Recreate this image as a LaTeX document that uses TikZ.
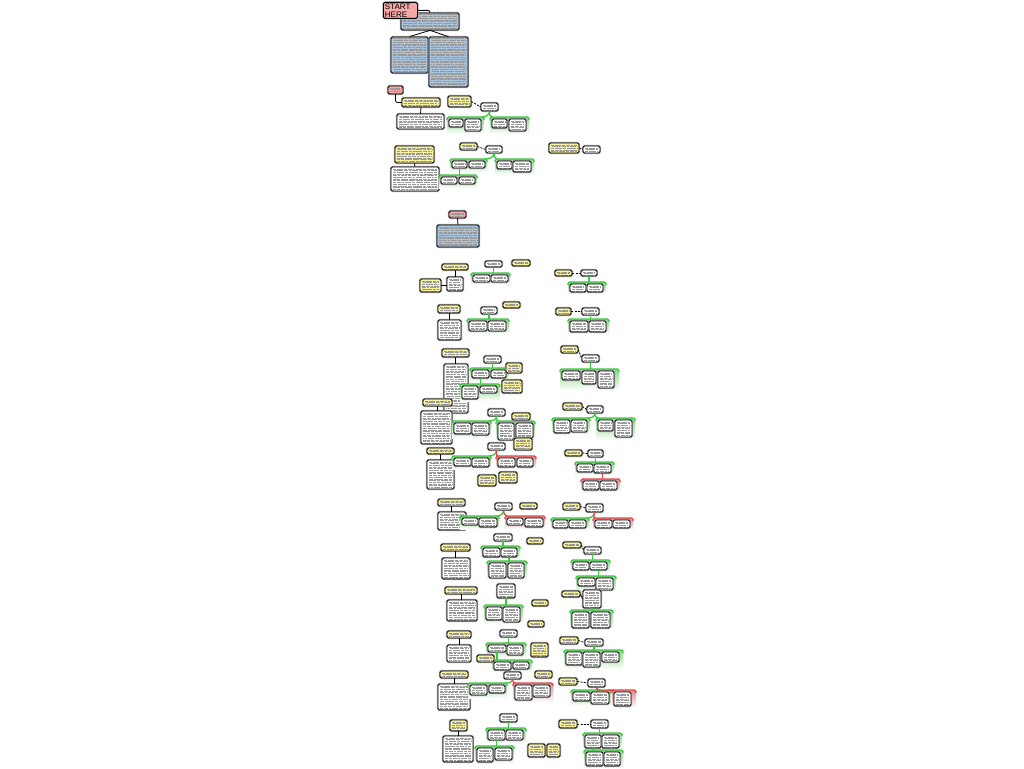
\documentclass[tikz,border=0pt]{standalone}
\usepackage{fontspec}
\setmainfont{Liberation Sans}
\usetikzlibrary{fit}

\definecolor{mapgreen}{RGB}{60,200,60}
\definecolor{mapred}{RGB}{230,70,70}
\definecolor{noteyellow}{RGB}{248,242,160}
\definecolor{infoblue}{RGB}{170,196,222}
\definecolor{headred}{RGB}{245,168,168}

% box from its two corners
\newcommand\bx[6]{\node[#1,textlines,fit={(#3,#4) (#5,#6)}] (#2) {};}
% bracket over a row of children
\newcommand\grp[6]{%
  \shade[top color=#1!65,bottom color=white] (#3,#4) rectangle (#5,#6);
  \draw[#1,line width=1.3pt,rounded corners=1.5pt] (#3,#4+3) |- (#5,#4) -- (#5,#4+3);
  \coordinate (#2) at ({(#3+#5)/2},#4);
  \coordinate (#2w) at (#3+2,#4);
  \coordinate (#2e) at (#5-2,#4);}

\begin{document}
\begin{tikzpicture}[x=1pt,y=-1pt,
  box/.style={inner sep=0pt,rounded corners=1.5pt,draw=black,line width=0.8pt,
    preaction={draw=black!35,line width=2.2pt}},
  textlines/.style={path picture={\foreach \k in {1,...,45}
    \draw[black!40,line width=0.4pt,dash pattern=on 4pt off 0.8pt on 2.5pt off 0.8pt on 6pt off 0.8pt on 3pt off 0.8pt,
      dash phase=\k*3.7pt]
      ([xshift=1.8pt,yshift=-\k*1.7pt]path picture bounding box.north west) --
      ([xshift=-1.8pt,yshift=-\k*1.7pt]path picture bounding box.north east);}},
  textbox/.style={box,fill=white},
  notebox/.style={box,fill=noteyellow},
  bluebox/.style={box,fill=infoblue},
  redbox/.style={box,fill=headred},
  startbox/.style={box,fill=headred,anchor=north west,minimum width=34pt,minimum height=15pt,
    text width=31pt,inner sep=1.2pt,align=left,font=\fontsize{8}{8}\selectfont},
  link/.style={draw=black,line width=0.8pt},
  dlink/.style={link,dash pattern=on 2pt off 1.2pt},
  glink/.style={draw=mapgreen,line width=1.3pt},
  rlink/.style={draw=mapred,line width=1.3pt}]
\fill[white] (0,0) rectangle (1024,768);
\useasboundingbox (0,0) rectangle (1024,768);

% start
\bx{bluebox}{intro}{401}{13}{459}{30}
\bx{bluebox}{introl}{391}{37}{428}{73}
\bx{bluebox}{intror}{429}{37}{468}{87}
\node[startbox] (start) at (383,2) {START\\HERE};
\draw[link,rounded corners=2pt] (start.east) -| (intro.north);
\draw[link] (intro.south) -- (introl.north);
\draw[link] (intro.south) -- (intror.north);

% basics
\bx{redbox}{basics}{388}{86}{403}{94}
\bx{notebox}{bnote}{402}{98}{440}{107}
\bx{textbox}{btext}{397}{114}{444}{129}
\draw[link,rounded corners=2pt] (basics.south) |- (bnote.west);
\draw[link] (bnote.south) -- (btext.north);

\grp{mapgreen}{ga}{447}{117}{484}{134}
\grp{mapgreen}{gb}{490}{117}{529}{134}
\bx{notebox}{mnote}{448}{96}{471}{107}
\bx{textbox}{mhub}{481}{103}{498}{111}
\bx{textbox}{ma1}{449}{119}{463}{127}
\bx{textbox}{ma2}{465}{119}{481}{131}
\bx{textbox}{ma3}{492}{119}{507}{128}
\bx{textbox}{ma4}{509}{119}{526}{131}
\draw[dlink] (mnote.east) -- (mhub.west);
\draw[glink] (mhub.south) to[out=-90,in=0] (gae);
\draw[glink] (mhub.south) to[out=-90,in=180] (gbw);

\bx{notebox}{bnote2}{395}{146}{434}{163}
\bx{textbox}{btext2}{391}{167}{439}{191}
\draw[link] (bnote2.south) -- (btext2.north);

\grp{mapgreen}{gc}{450}{159}{487}{172}
\grp{mapgreen}{gd}{495}{159}{534}{175}
\grp{mapgreen}{ge}{439}{175}{477}{188}
\bx{notebox}{mnote2}{460}{143}{477}{150}
\bx{textbox}{mhub2}{486}{146}{502}{153}
\bx{textbox}{mb1}{452}{161}{467}{168}
\bx{textbox}{mb2}{469}{161}{485}{168}
\bx{textbox}{mb3}{497}{161}{512}{169}
\bx{textbox}{mb4}{513}{161}{531}{172}
\bx{textbox}{mb5}{441}{177}{457}{184}
\bx{textbox}{mb6}{459}{177}{475}{184}
\draw[dlink] (mnote2.east) -- (mhub2.west);
\draw[glink] (mhub2.south) to[out=-90,in=0] (gce);
\draw[glink] (mhub2.south) to[out=-90,in=180] (gdw);
\draw[glink] (mb1.south) -- (mb1.south|-ge);

\bx{notebox}{rnote0}{549}{143}{579}{153}
\bx{textbox}{rhub0}{583}{146}{600}{153}
\draw[dlink] (rnote0.east) -- (rhub0.west);

% advanced
\bx{redbox}{adv}{449}{211}{466}{218}
\bx{bluebox}{advinfo}{437}{225}{479}{247}
\draw[link] (adv.south) -- (advinfo.north);

% left column
\foreach \n/\xa/\ya/\xb/\yb/\xc/\yc/\xd/\yd in {
  a/442/264/468/270/447/277/463/291, b/438/305/460/313/438/320/461/340,
  c/442/349/469/357/444/364/468/413, d/423/399/452/406/421/411/452/444,
  e/427/448/454/454/427/460/454/489, f/438/499/465/506/438/512/466/530,
  g/441/544/470/551/442/558/470/579, h/445/587/477/594/447/600/477/621,
  i/447/631/471/638/447/645/471/662, j/440/671/468/678/438/684/470/710,
  k/450/720/467/731/443/736/473/762}{
  \bx{notebox}{l\n}{\xa}{\ya}{\xb}{\yb}
  \bx{textbox}{l\n t}{\xc}{\yc}{\xd}{\yd}
  \draw[link] (l\n.south) -- (l\n.south|-l\n t.north);
}
\bx{notebox}{las}{420}{279}{441}{292}
\draw[link] (las.east) -- (las.east-|lat.west);

% middle column
\grp{mapgreen}{gma}{471}{273}{510}{285}
\bx{textbox}{ha}{485}{261}{502}{267}
\bx{textbox}{a1}{473}{275}{490}{282}
\bx{textbox}{a2}{491}{275}{508}{282}
\bx{notebox}{na}{512}{260}{530}{266}
\draw[glink] (ha.south) -- (ha.south|-gma);

\grp{mapgreen}{gmb}{467}{319}{509}{334}
\bx{textbox}{hb}{481}{307}{497}{314}
\bx{textbox}{b1}{469}{321}{487}{331}
\bx{textbox}{b2}{488}{321}{506}{331}
\bx{notebox}{nb}{503}{302}{520}{308}
\draw[glink] (hb.south) -- (hb.south|-gmb);

\grp{mapgreen}{gmc}{470}{368}{509}{381}
\grp{mapgreen}{gmc2}{460}{384}{500}{401}
\bx{textbox}{hc}{484}{356}{501}{363}
\bx{textbox}{c1}{472}{370}{489}{378}
\bx{textbox}{c2}{491}{370}{506}{378}
\bx{textbox}{c3}{462}{386}{478}{399}
\bx{textbox}{c4}{480}{386}{497}{393}
\bx{notebox}{nc1}{506}{363}{522}{373}
\bx{notebox}{nc2}{502}{380}{522}{393}
\draw[glink] (hc.south) -- (hc.south|-gmc);
\draw[glink] (c1.south) -- (c1.south|-gmc2);

\grp{mapgreen}{gmd1}{452}{421}{491}{438}
\grp{mapgreen}{gmd2}{496}{421}{535}{442}
\bx{textbox}{hd}{488}{409}{505}{416}
\bx{textbox}{d1}{454}{423}{471}{434}
\bx{textbox}{d2}{472}{423}{489}{435}
\bx{textbox}{d3}{498}{423}{514}{440}
\bx{textbox}{d4}{516}{423}{533}{438}
\bx{notebox}{nd1}{512}{413}{530}{420}
\bx{notebox}{nd2}{514}{438}{532}{450}
\draw[glink] (hd.south) to[out=-90,in=0] (gmd1e);
\draw[glink] (hd.south) to[out=-90,in=180] (gmd2w);

\grp{mapgreen}{gme1}{452}{456}{491}{469}
\grp{mapred}{gme2}{496}{456}{536}{469}
\bx{textbox}{he}{488}{443}{505}{450}
\bx{textbox}{e1}{454}{458}{471}{466}
\bx{textbox}{e2}{472}{458}{489}{467}
\bx{textbox}{e3}{498}{458}{515}{467}
\bx{textbox}{e4}{517}{458}{533}{467}
\bx{notebox}{ne1}{478}{475}{496}{486}
\bx{notebox}{ne2}{499}{472}{517}{483}
\draw[glink] (he.south) to[out=-90,in=0] (gme1e);
\draw[rlink] (he.south) to[out=-90,in=180] (gme2w);

\grp{mapgreen}{gmf1}{460}{516}{499}{529}
\grp{mapred}{gmf2}{505}{516}{545}{529}
\bx{textbox}{hf}{495}{503}{512}{510}
\bx{textbox}{f1}{462}{518}{478}{525}
\bx{textbox}{f2}{479}{518}{497}{527}
\bx{textbox}{f3}{507}{518}{523}{525}
\bx{textbox}{f4}{525}{518}{543}{527}
\bx{notebox}{nf}{520}{503}{537}{509}
\draw[glink] (hf.south) to[out=-90,in=0] (gmf1e);
\draw[rlink] (hf.south) to[out=-90,in=180] (gmf2w);

\grp{mapgreen}{gmg1}{481}{546}{520}{559}
\grp{mapgreen}{gmg2}{487}{561}{527}{580}
\bx{textbox}{hg}{494}{534}{512}{541}
\bx{textbox}{g1}{483}{548}{500}{557}
\bx{textbox}{g2}{501}{548}{517}{557}
\bx{textbox}{g3}{489}{563}{506}{578}
\bx{textbox}{g4}{508}{563}{524}{578}
\bx{notebox}{ng}{527}{538}{543}{544}
\draw[glink] (hg.south) -- (hg.south|-gmg1);
\draw[glink] (g2.south) -- (g2.south|-gmg2);

\grp{mapgreen}{gmh}{484}{605}{523}{624}
\bx{textbox}{hh}{497}{584}{515}{598}
\bx{textbox}{h1}{486}{607}{502}{620}
\bx{textbox}{h2}{503}{607}{520}{622}
\bx{notebox}{nh1}{532}{600}{548}{606}
\bx{notebox}{nh2}{528}{621}{544}{627}
\draw[glink] (hh.south) -- (hh.south|-gmh);

\grp{mapgreen}{gmi}{486}{643}{526}{658}
\grp{mapgreen}{gmi2}{492}{660}{532}{672}
\bx{textbox}{hi}{500}{630}{517}{637}
\bx{textbox}{i1}{488}{645}{506}{652}
\bx{textbox}{i2}{507}{645}{523}{655}
\bx{textbox}{i3}{494}{662}{511}{670}
\bx{textbox}{i4}{513}{662}{529}{669}
\bx{notebox}{ni1}{531}{643}{548}{657}
\bx{notebox}{ni2}{477}{655}{494}{662}
\draw[glink] (hi.south) -- (hi.south|-gmi);
\draw[glink] (i1.south) -- (i1.south|-gmi2);

\grp{mapgreen}{gmj1}{468}{683}{507}{698}
\grp{mapred}{gmj2}{513}{683}{553}{702}
\bx{textbox}{hj}{504}{672}{521}{679}
\bx{textbox}{j1}{470}{685}{487}{695}
\bx{textbox}{j2}{489}{685}{505}{693}
\bx{textbox}{j3}{515}{685}{532}{700}
\bx{textbox}{j4}{533}{685}{550}{697}
\bx{notebox}{nj}{535}{671}{552}{678}
\draw[glink] (hj.south) to[out=-90,in=0] (gmj1e);
\draw[rlink] (hj.south) to[out=-90,in=180] (gmj2w);

\grp{mapgreen}{gmk1}{486}{728}{526}{743}
\grp{mapgreen}{gmk2}{475}{746}{514}{764}
\bx{textbox}{hk}{500}{714}{517}{722}
\bx{textbox}{k1}{488}{730}{505}{740}
\bx{textbox}{k2}{506}{730}{523}{740}
\bx{textbox}{k3}{477}{748}{493}{762}
\bx{textbox}{k4}{495}{748}{512}{760}
\bx{notebox}{nk1}{528}{744}{545}{757}
\bx{notebox}{nk2}{547}{744}{560}{757}
\draw[glink] (hk.south) -- (hk.south|-gmk1);
\draw[glink] (k1.south) -- (k1.south|-gmk2);

% right column
\grp{mapgreen}{gra}{568}{282}{606}{294}
\bx{notebox}{rna}{555}{270}{572}{276}
\bx{textbox}{rha}{581}{270}{597}{276}
\bx{textbox}{ra1}{570}{284}{586}{292}
\bx{textbox}{ra2}{587}{284}{603}{292}
\draw[dlink] (rna.east) -- (rha.west);
\draw[glink] (rha.south) -- (rha.south|-gra);

\grp{mapgreen}{grb}{568}{319}{609}{334}
\bx{notebox}{rnb}{556}{308}{571}{315}
\bx{textbox}{rhb}{582}{308}{599}{315}
\bx{textbox}{rb1}{570}{321}{588}{332}
\bx{textbox}{rb2}{589}{321}{606}{332}
\draw[dlink] (rnb.east) -- (rhb.west);
\draw[glink] (rhb.south) -- (rhb.south|-grb);

\grp{mapgreen}{grc}{560}{369}{619}{390}
\bx{notebox}{rnc}{561}{346}{578}{353}
\bx{textbox}{rhc}{582}{355}{599}{362}
\bx{textbox}{rc1}{562}{371}{580}{380}
\bx{textbox}{rc2}{582}{371}{596}{384}
\bx{textbox}{rc3}{598}{371}{614}{388}
\draw[dlink] (rnc.east) -- (rhc.west);
\draw[glink] (rhc.south) -- (rhc.south|-grc);

\grp{mapgreen}{grd1}{552}{418}{590}{435}
\grp{mapgreen}{grd2}{596}{418}{635}{440}
\bx{notebox}{rnd}{563}{403}{582}{410}
\bx{textbox}{rhd}{587}{406}{603}{413}
\bx{textbox}{rd1}{554}{420}{570}{433}
\bx{textbox}{rd2}{571}{420}{587}{432}
\bx{textbox}{rd3}{598}{420}{613}{431}
\bx{textbox}{rd4}{615}{420}{632}{437}
\draw[dlink] (rnd.east) -- (rhd.west);
\draw[glink] (rhd.south) to[out=-90,in=0] (grd1e);
\draw[glink] (rhd.south) to[out=-90,in=180] (grd2w);

\grp{mapgreen}{gre1}{575}{462}{614}{475}
\grp{mapred}{gre2}{581}{479}{620}{492}
\bx{notebox}{rne}{565}{450}{582}{456}
\bx{textbox}{rhe}{588}{450}{603}{457}
\bx{textbox}{re1}{577}{464}{593}{472}
\bx{textbox}{re2}{594}{464}{611}{473}
\bx{textbox}{re3}{583}{481}{599}{490}
\bx{textbox}{re4}{600}{481}{617}{490}
\draw[dlink] (rne.east) -- (rhe.west);
\draw[glink] (rhe.south) -- (rhe.south|-gre1);
\draw[rlink] (re2.south) -- (re2.south|-gre2);

\grp{mapgreen}{grf1}{551}{518}{589}{530}
\grp{mapred}{grf2}{593}{518}{633}{530}
\bx{notebox}{rnf}{563}{503}{580}{510}
\bx{textbox}{rhf}{586}{504}{603}{512}
\bx{textbox}{rf1}{553}{520}{568}{528}
\bx{textbox}{rf2}{569}{520}{586}{528}
\bx{textbox}{rf3}{595}{520}{612}{528}
\bx{textbox}{rf4}{613}{520}{630}{528}
\draw[dlink] (rnf.east) -- (rhf.west);
\draw[glink] (rhf.south) to[out=-90,in=0] (grf1e);
\draw[rlink] (rhf.south) to[out=-90,in=180] (grf2w);

\grp{mapgreen}{grg1}{571}{560}{610}{572}
\grp{mapgreen}{grg2}{576}{576}{616}{592}
\bx{notebox}{rng}{563}{542}{581}{548}
\bx{textbox}{rhg}{584}{547}{601}{554}
\bx{textbox}{rg1}{573}{562}{589}{570}
\bx{textbox}{rg2}{590}{562}{607}{570}
\bx{textbox}{rg3}{578}{578}{595}{586}
\bx{textbox}{rg4}{596}{578}{613}{590}
\draw[dlink] (rng.east) -- (rhg.west);
\draw[glink] (rhg.south) -- (rhg.south|-grg1);
\draw[glink] (rg2.south) -- (rg2.south|-grg2);

\grp{mapgreen}{grg3}{570}{610}{613}{630}
\bx{notebox}{rng2}{562}{591}{580}{597}
\bx{textbox}{rhg2}{583}{590}{601}{608}
\bx{textbox}{rg5}{572}{612}{589}{628}
\bx{textbox}{rg6}{591}{612}{610}{628}
\draw[link] (rng2.east) -- (rhg2.west);
\draw[glink] (rhg2.south) -- (rhg2.south|-grg3);

\grp{mapgreen}{grh}{564}{650}{623}{669}
\bx{notebox}{rnh}{560}{637}{578}{644}
\bx{textbox}{rhh}{585}{639}{603}{646}
\bx{textbox}{rh1}{566}{652}{582}{665}
\bx{textbox}{rh2}{583}{652}{600}{667}
\bx{textbox}{rh3}{602}{652}{619}{662}
\draw[dlink] (rnh.east) -- (rhh.west);
\draw[glink] (rhh.south) -- (rhh.south|-grh);

\grp{mapgreen}{gri1}{571}{690}{611}{706}
\grp{mapred}{gri2}{612}{690}{636}{708}
\bx{notebox}{rni}{559}{678}{577}{685}
\bx{textbox}{rhi}{588}{679}{605}{687}
\bx{textbox}{ri1}{573}{692}{590}{701}
\bx{textbox}{ri2}{591}{692}{609}{704}
\bx{textbox}{ri3}{614}{692}{631}{706}
\draw[dlink] (rni.east) -- (rhi.west);
\draw[glink] (rhi.south) to[out=-90,in=0] (gri1e);
\draw[rlink] (rhi.south) to[out=-90,in=180] (gri2w);

\grp{mapgreen}{grj1}{583}{733}{622}{750}
\grp{mapgreen}{grj2}{584}{750}{623}{768}
\bx{notebox}{rnj}{559}{720}{577}{728}
\bx{textbox}{rhj}{591}{720}{608}{728}
\bx{textbox}{rj1}{585}{735}{601}{748}
\bx{textbox}{rj2}{602}{735}{619}{748}
\bx{textbox}{rj3}{586}{752}{603}{766}
\bx{textbox}{rj4}{604}{752}{620}{766}
\draw[dlink] (rnj.east) -- (rhj.west);
\draw[glink] (rhj.south) -- (rhj.south|-grj1);
\draw[glink] (rj1.south) -- (rj1.south|-grj2);
\end{tikzpicture}
\end{document}
